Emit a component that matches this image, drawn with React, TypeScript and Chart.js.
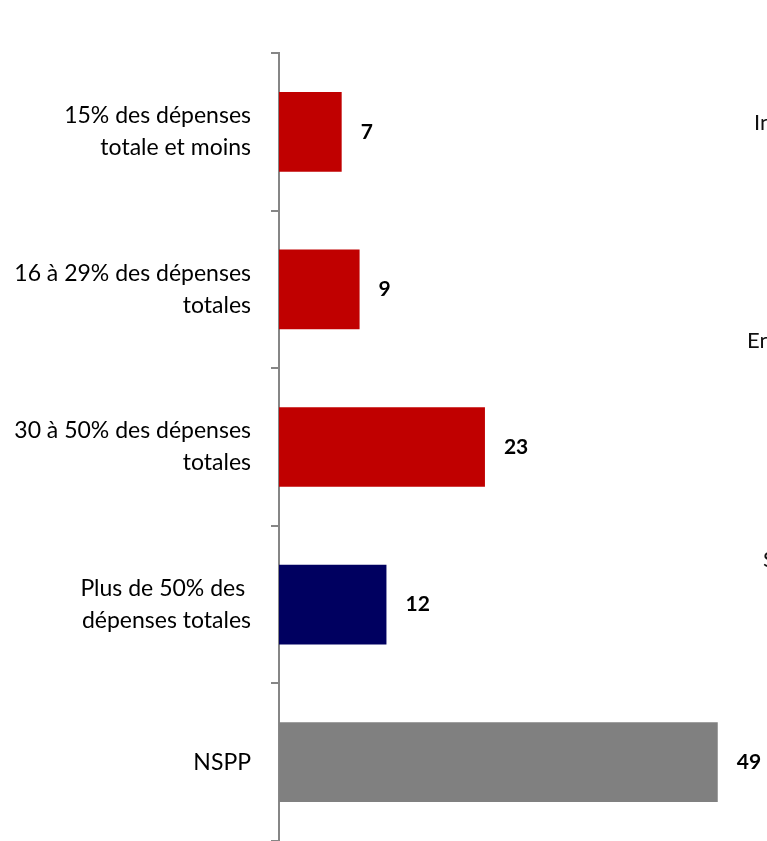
import React, { useEffect, useRef } from "react";
import { Chart, registerables } from "chart.js";

Chart.register(...registerables);

const categories: string[][] = [
  ["15% des dépenses", "totale et moins"],
  ["16 à 29% des dépenses", "totales"],
  ["30 à 50% des dépenses", "totales"],
  ["Plus de 50% des ", "dépenses totales"],
  ["NSPP"],
];
const values: number[] = [7, 9, 23, 12, 49];
const barColors: string[] = ["#C00000", "#C00000", "#C00000", "#000060", "#808080"];
const sideTexts: string[] = ["In", "En", "S"];

const FONT = "Lato, 'Open Sans', sans-serif";

export default function App() {
  const ref = useRef<HTMLCanvasElement | null>(null);

  useEffect(() => {
    if (!ref.current) return;

    const valueLabels = {
      id: "valueLabels",
      afterDatasetsDraw(chart: any) {
        const ctx = chart.ctx;
        const meta = chart.getDatasetMeta(0);
        ctx.save();
        ctx.font = `bold 21px ${FONT}`;
        ctx.fillStyle = "#000";
        ctx.textAlign = "left";
        ctx.textBaseline = "middle";
        meta.data.forEach((bar: any, i: number) => {
          ctx.fillText(String(values[i]), bar.x + 19, bar.y);
        });
        ctx.restore();
      },
    };

    const sideLabels = {
      id: "sideLabels",
      afterDraw(chart: any) {
        const ctx = chart.ctx;
        ctx.save();
        ctx.font = `22px ${FONT}`;
        ctx.fillStyle = "#111";
        ctx.textAlign = "left";
        ctx.textBaseline = "middle";
        const xs = [754, 747, 763];
        const ys = [123, 341, 560];
        sideTexts.forEach((t, i) => ctx.fillText(t, xs[i], ys[i]));
        ctx.restore();
      },
    };

    const chart = new Chart(ref.current, {
      type: "bar",
      data: {
        labels: categories,
        datasets: [
          {
            data: values,
            backgroundColor: barColors,
            borderWidth: 0,
            categoryPercentage: 1,
            barPercentage: 0.506,
          },
        ],
      },
      options: {
        indexAxis: "y",
        animation: false,
        responsive: false,
        maintainAspectRatio: false,
        layout: { padding: { top: 53, right: 0, bottom: 0, left: 0 } },
        plugins: {
          legend: { display: false },
          tooltip: { enabled: false },
        },
        scales: {
          x: {
            display: false,
            min: 0,
            max: 54.5,
          },
          y: {
            afterFit(scale: any) {
              scale.width = 279;
              scale.paddingTop = 0;
              scale.paddingBottom = 0;
            },
            grid: {
              display: true,
              drawOnChartArea: false,
              drawTicks: true,
              tickLength: 8,
              color: "#868686",
              lineWidth: 2,
              offset: true,
            },
            border: { display: true, color: "#868686", width: 2 },
            ticks: {
              color: "#000",
              padding: 20,
              font: { family: FONT, size: 23, lineHeight: 1.39 },
            },
          },
        },
      },
      plugins: [valueLabels, sideLabels],
    });

    return () => chart.destroy();
  }, []);

  return (
    <div style={{ position: "absolute", left: 0, top: 0, width: 767, height: 841, background: "#fff" }}>
      <canvas ref={ref} width={767} height={841} style={{ display: "block" }} />
    </div>
  );
}
